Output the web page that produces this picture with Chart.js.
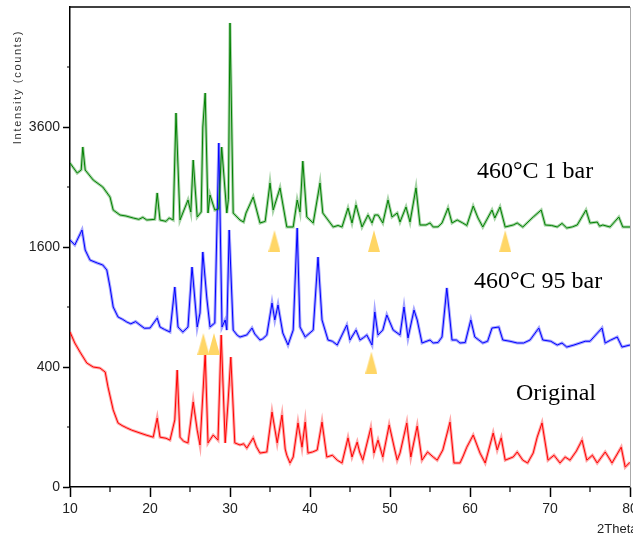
<!DOCTYPE html>
<html>
<head>
<meta charset="utf-8">
<script src="https://cdn.jsdelivr.net/npm/chart.js"></script>
<style>
  body { margin: 0; background: #fff; }
  canvas { display: block; }
</style>
</head>
<body>
<canvas id="xrdChart" width="633" height="538"></canvas>

<script>
// [2theta, counts]
const green1bar = [
  [10.0,2916],[10.9,2738],[11.4,2790],[11.6,3211],[11.9,2791],[12.9,2618],[14.1,2500],[15.0,2336],
  [15.4,2131],[16.25,2055],[17.0,2040],[17.9,2010],[18.6,1990],[19.1,2020],[19.6,1980],[20.6,1990],
  [20.9,2401],[21.25,1980],[22.0,1960],[22.4,2010],[22.9,1980],
  [23.25,3885],[23.75,1980],[24.75,2288],[25.1,2100],[25.4,2970],[25.9,2025],[26.4,2100],[26.6,3600],
  [26.9,4312],[27.25,2085],[27.5,2368],[28.1,2131],[28.6,2150],[28.96,3211],[29.6,2085],[29.8,2300],
  [30.0,5981],[30.4,2085],[31.25,1980],[31.7,1950],[32.0,2085],[32.9,2336],[33.75,1936],[34.4,1960],
  [35.0,2567],[35.4,2131],
  [36.25,2485],[37.1,1878],[37.9,1878],[38.4,2288],[38.75,2100],[39.1,2950],[39.6,2025],[40.4,1936],
  [41.25,2567],[41.6,2085],[42.9,1878],[43.5,1900],[44.0,1878],[44.75,2162],[45.25,1936],[45.75,2209],
  [46.5,1878],
  [47.25,2055],[47.75,1936],[48.1,2055],[48.5,2055],[49.1,1936],[49.75,2288],[50.25,2025],[50.9,2085],
  [51.25,1951],[52.0,2178],[52.5,1951],[53.25,2485],[53.75,1907],[54.5,1907],[55.0,1936],[55.4,1878],
  [56.0,1880],[56.5,1936],[57.25,2162],
  [57.75,1936],[58.4,1980],[59.1,1936],[59.6,1900],[60.4,2193],[61.0,2010],[61.6,1878],[62.75,2131],
  [63.1,2010],[63.75,2178],
  [64.4,1878],[65.4,1907],[65.9,1936],[66.6,1878],[67.9,2025],[68.9,2131],[69.4,1907],[70.2,1900],
  [70.9,1878],[71.5,1930],[72.1,1863],[72.8,1880],
  [73.4,1907],[74.5,2131],[75.0,1936],[75.9,1950],[76.2,1890],[76.6,1907],[77.5,1878],[78.6,2025],
  [79.1,1878],[80.0,1878]
];

const blue95bar = [
  [10.0,1695],[10.6,1627],[11.5,1835],[11.9,1560],[12.5,1431],[13.4,1394],[14.1,1369],[14.6,1308],
  [15.0,1111],[15.4,900],[16.0,803],[16.6,780],[17.1,756],[17.6,740],[18.2,760],[18.75,729],
  [19.3,700],[20.0,702],[20.9,793],[21.25,711],[21.8,690],
  [22.5,667],[23.1,1111],[23.5,711],[24.1,667],[24.75,711],[25.25,1344],[25.4,1190],[25.9,711],
  [26.25,841],[26.6,1534],[27.1,992],[27.5,711],[28.1,747],[28.6,3287],[29.0,711],[29.4,775],
  [29.6,684],[29.9,1835],[30.4,684],[30.9,640],[31.25,625],[32.1,642],[32.75,702],[33.1,650],
  [33.75,600],[34.1,610],[34.6,642],
  [35.25,940],[35.6,775],[36.0,920],[36.6,659],[37.25,560],[37.9,684],[38.4,1863],[38.75,711],
  [39.4,625],[40.4,684],[41.0,1469],[41.5,775],[42.25,600],[42.8,590],[43.4,560],[44.6,729],
  [45.0,600],[45.75,684],[46.25,600],[46.7,620],[47.1,642],[47.75,560],[48.1,851],[48.5,642],
  [49.1,684],[49.6,822],
  [50.4,684],[51.25,642],[51.75,900],[52.25,617],[53.0,870],[53.4,775],[54.0,576],[55.0,600],
  [55.4,576],[56.0,580],
  [56.5,625],[57.1,1100],[57.75,600],[58.3,600],[58.75,576],[59.4,580],[60.1,775],[60.6,625],
  [61.1,600],[61.6,576],[62.2,590],[62.75,702],
  [63.6,711],[64.1,600],[65.0,590],[65.9,576],[66.7,576],[67.5,600],[68.6,702],[69.1,600],
  [70.1,590],[70.9,560],[71.5,576],[72.1,544],[73.0,560],
  [73.75,576],[74.4,590],[75.0,590],[76.5,702],[76.9,576],[77.6,600],[78.4,625],[79.0,544],[80.0,560]
];

const redOriginal = [
  [10.0,667],[10.6,576],[11.25,506],[12.1,427],[12.9,400],[13.75,393],[14.4,367],[14.75,278],
  [15.4,165],[16.0,114],[16.5,105],[17.1,97],[17.7,90],[18.75,81],[19.5,75],[20.4,69],
  [20.9,132],[21.25,69],[22.0,66],[22.5,61],
  [23.1,125],[23.4,380],[23.75,69],[24.2,58],[24.75,54],[25.4,201],[25.9,90],[26.25,49],[26.9,499],
  [27.25,54],[27.9,75],[28.5,61],[28.9,642],[29.4,54],[29.75,196],[30.1,469],[30.6,54],
  [31.25,49],[31.7,52],[32.1,42],[32.9,67],[33.3,45],[33.75,32],[34.6,34],[35.25,156],[35.9,54],
  [36.5,144],[36.9,40],
  [37.1,28],[37.5,16],[37.9,25],[38.5,114],[39.0,44],[39.4,117],[39.75,32],[40.3,34],[40.9,38],
  [41.5,117],[42.1,25],[42.8,28],[43.4,20],[44.0,16],[44.75,67],[45.25,25],[45.9,56],[46.2,34],
  [46.6,20],
  [47.6,97],[48.0,32],[48.5,61],[49.1,25],[49.9,107],[50.6,38],[50.9,20],[51.25,32],[52.1,114],
  [52.6,25],[53.4,103],[54.0,20],[54.7,34],[55.4,25],[55.9,20],[56.6,38],[57.5,117],[58.0,16],
  [58.75,16],[59.1,25],
  [59.6,44],[60.4,75],[61.25,32],[61.9,16],[62.9,81],[63.4,38],[63.9,67],[64.4,20],
  [65.4,25],[65.9,34],[66.6,20],[67.2,16],[67.9,32],[68.4,69],[69.0,114],[69.75,20],[70.5,28],
  [71.25,16],[71.9,25],[72.5,20],[73.3,36],
  [74.0,61],[74.6,20],[75.3,28],[75.9,16],[76.9,34],[77.3,25],[77.75,16],[78.9,44],[79.4,11],[80.0,17]
];

// yellow markers
const markers = [[35.56,1680],[48.0,1680],[64.4,1680],[26.67,568],[28.0,568],[47.67,430]];

const yTicks = [0, 400, 1600, 3600];
const yMinor = [100, 900, 2500, 4900];
const xMinor = [15, 25, 35, 45, 55, 65, 75];

const tickFont = { family: "'Liberation Sans', Arial, sans-serif", size: 14 };

// square-root intensity axis
class SqrtScale extends Chart.LinearScale {
  buildTicks() {
    this.start = this.min;
    this.end = this.max;
    return yTicks.map(v => ({ value: v }));
  }
  getPixelForValue(value) {
    const a = Math.sqrt(this.min), b = Math.sqrt(this.max);
    return this.getPixelForDecimal((Math.sqrt(Math.max(value, 0)) - a) / (b - a));
  }
  getValueForPixel(pixel) {
    const a = Math.sqrt(this.min), b = Math.sqrt(this.max);
    const s = a + this.getDecimalForPixel(pixel) * (b - a);
    return s * s;
  }
}
SqrtScale.id = 'sqrt';
SqrtScale.defaults = Chart.LinearScale.defaults;
Chart.register(SqrtScale);

function pts(arr) {
  return arr.map(p => ({ x: p[0], y: p[1] }));
}

const tri = document.createElement('canvas');
tri.width = 12; tri.height = 22;
const tctx = tri.getContext('2d');
tctx.fillStyle = '#FFD666';
tctx.beginPath();
tctx.moveTo(6, 0); tctx.lineTo(12, 22); tctx.lineTo(0, 22); tctx.closePath();
tctx.fill();

function series(data, core, halo) {
  return [
    { data: pts(data), borderColor: halo, borderWidth: 3, pointRadius: 0, order: 2 },
    { data: pts(data), borderColor: core, borderWidth: 1, pointRadius: 0, order: 1 }
  ];
}

const decor = {
  id: 'decor',
  afterDraw(chart) {
    const { ctx, chartArea: a, scales: { x, y } } = chart;
    ctx.save();
    ctx.strokeStyle = '#000';
    ctx.lineWidth = 1.5;
    ctx.beginPath();
    ctx.moveTo(a.left, a.top); ctx.lineTo(a.right, a.top);
    ctx.stroke();
    ctx.strokeStyle = '#aaa';
    ctx.lineWidth = 1;
    ctx.beginPath();
    ctx.moveTo(a.right + 0.5, a.top); ctx.lineTo(a.right + 0.5, a.bottom);
    ctx.stroke();

    ctx.strokeStyle = '#000';
    ctx.lineWidth = 1.2;
    ctx.beginPath();
    xMinor.forEach(v => {
      const px = x.getPixelForValue(v);
      ctx.moveTo(px, a.bottom); ctx.lineTo(px, a.bottom + 5);
    });
    yMinor.forEach(v => {
      const py = y.getPixelForValue(v);
      ctx.moveTo(a.left - 3, py); ctx.lineTo(a.left, py);
    });
    ctx.stroke();

    // axis titles
    ctx.fillStyle = '#333';
    ctx.save();
    ctx.translate(18, 87);
    ctx.rotate(-Math.PI / 2);
    ctx.font = "11px 'Liberation Sans', Arial, sans-serif";
    ctx.letterSpacing = '1.7px';
    ctx.textAlign = 'center';
    ctx.textBaseline = 'middle';
    ctx.fillText('Intensity (counts)', 0, 0);
    ctx.restore();

    ctx.fillStyle = '#222';
    ctx.font = "13px 'Liberation Sans', Arial, sans-serif";
    ctx.textAlign = 'left';
    ctx.textBaseline = 'middle';
    ctx.fillText('2Theta (°)', 597, 529);

    // sample labels
    ctx.fillStyle = '#000';
    ctx.font = "24px 'Liberation Serif', 'Times New Roman', serif";
    ctx.textBaseline = 'alphabetic';
    ctx.fillText('460°C 1 bar', 477, 178);
    ctx.fillText('460°C 95 bar', 474, 288);
    ctx.fillText('Original', 516, 400);
    ctx.restore();
  }
};

new Chart(document.getElementById('xrdChart'), {
  type: 'line',
  data: {
    datasets: [
      ...series(green1bar, '#008000', 'rgba(0,128,0,0.35)'),
      ...series(blue95bar, '#0000FF', 'rgba(0,0,255,0.35)'),
      ...series(redOriginal, '#FF0000', 'rgba(255,0,0,0.35)'),
      {
        type: 'scatter',
        data: pts(markers),
        pointStyle: tri,
        pointRadius: 8,
        order: 0
      }
    ]
  },
  options: {
    responsive: false,
    animation: false,
    layout: { autoPadding: false, padding: { top: 7, right: 3, left: 0, bottom: 0 } },
    plugins: { legend: { display: false }, tooltip: { enabled: false } },
    elements: { line: { tension: 0, fill: false } },
    scales: {
      x: {
        type: 'linear',
        min: 10,
        max: 80,
        afterFit: s => { s.height = 51; s.paddingLeft = 0; s.paddingRight = 0; },
        ticks: { stepSize: 10, font: tickFont, color: '#222', padding: 4 },
        grid: { drawOnChartArea: false, tickLength: 10, tickColor: '#000', tickWidth: 1.5 },
        border: { color: '#000', width: 1.5 }
      },
      y: {
        type: 'sqrt',
        min: 0,
        max: 6400,
        afterFit: s => { s.width = 70; s.paddingTop = 0; s.paddingBottom = 0; },
        ticks: { autoSkip: false, font: tickFont, color: '#222', padding: 3, callback: v => String(v) },
        grid: { drawOnChartArea: false, tickLength: 7, tickColor: '#000', tickWidth: 1.5 },
        border: { color: '#000', width: 1.5 }
      }
    }
  },
  plugins: [decor]
});
</script>
</body>
</html>
